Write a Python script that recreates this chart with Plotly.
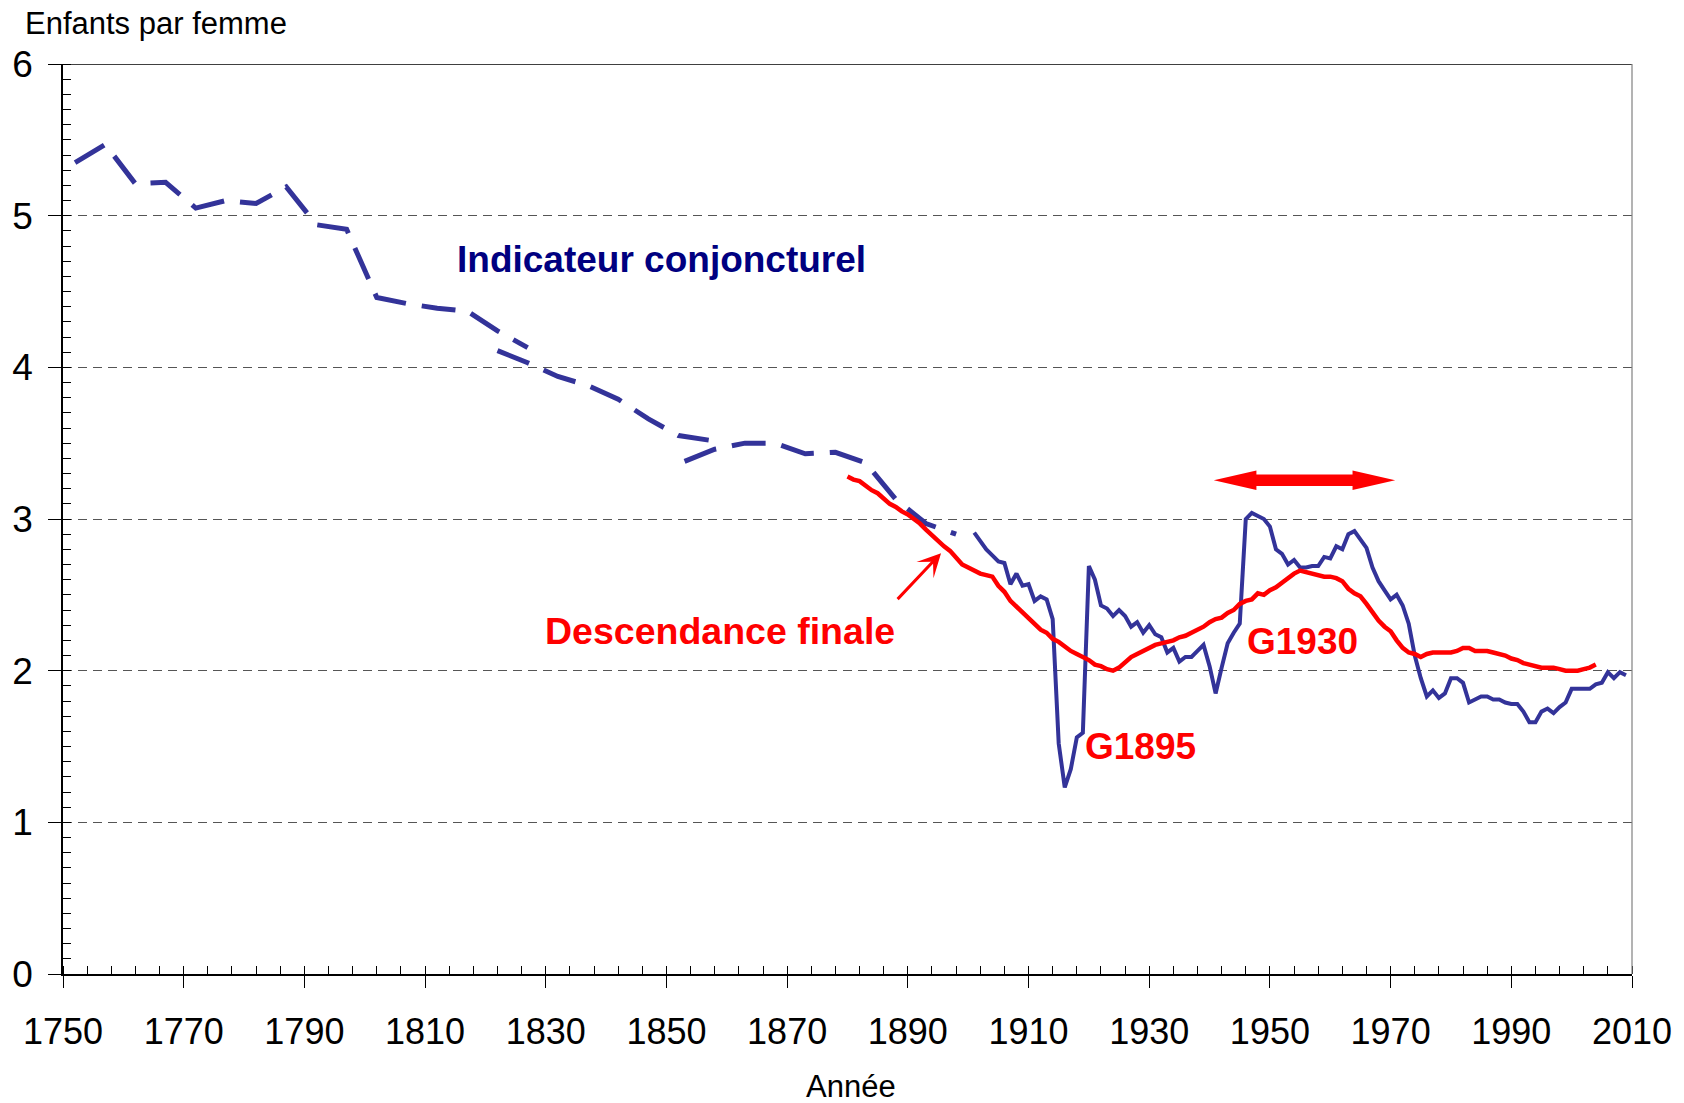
import plotly.graph_objects as go

# ---------------- data ----------------
# Indicateur conjoncturel - older estimates (5-year points, three overlapping sources)
years_a = [1752, 1757, 1762, 1767, 1772, 1777, 1782, 1787, 1792, 1797, 1802, 1807, 1812, 1817, 1822, 1827]
tfr_a = [5.35, 5.47, 5.21, 5.22, 5.05, 5.10, 5.08, 5.19, 4.94, 4.91, 4.46, 4.42, 4.39, 4.37, 4.24, 4.13]

years_b = [1822, 1827, 1832, 1837, 1842, 1847, 1852, 1857]
tfr_b = [4.11, 4.03, 3.94, 3.88, 3.79, 3.66, 3.55, 3.52]

years_c = [1853, 1858, 1863, 1868, 1873, 1878, 1883, 1888, 1893, 1898]
tfr_c = [3.38, 3.46, 3.50, 3.50, 3.43, 3.44, 3.37, 3.13, 2.97, 2.90]

# Indicateur conjoncturel - annual series 1901-2009
years_d = list(range(1901, 2010))
tfr_d = [2.91, 2.85, 2.80, 2.76, 2.72, 2.71, 2.57, 2.64, 2.56, 2.57,
         2.46, 2.49, 2.47, 2.34, 1.52, 1.23, 1.35, 1.56, 1.59, 2.69,
         2.60, 2.43, 2.41, 2.36, 2.40, 2.36, 2.29, 2.32, 2.25, 2.30,
         2.24, 2.22, 2.12, 2.15, 2.06, 2.09, 2.09, 2.13, 2.17, 2.03,
         1.85, 2.02, 2.18, 2.25, 2.31, 3.00, 3.04, 3.02, 3.00, 2.95,
         2.80, 2.77, 2.70, 2.73, 2.68, 2.68, 2.69, 2.69, 2.75, 2.74,
         2.82, 2.80, 2.90, 2.92, 2.86, 2.81, 2.68, 2.59, 2.53, 2.47,
         2.50, 2.43, 2.31, 2.10, 1.95, 1.83, 1.87, 1.82, 1.85, 1.95,
         1.95, 1.92, 1.79, 1.81, 1.83, 1.83, 1.81, 1.81, 1.79, 1.78,
         1.78, 1.73, 1.66, 1.66, 1.73, 1.75, 1.72, 1.76, 1.79, 1.88,
         1.88, 1.88, 1.88, 1.91, 1.92, 1.99, 1.95, 1.99, 1.97]

# Descendance finale (annual, 1880-2004)
years_r = list(range(1880, 2005))
desc_r = [3.28, 3.26, 3.25, 3.22, 3.19, 3.17, 3.13, 3.10, 3.08, 3.05,
          3.03, 3.00, 2.97, 2.93, 2.89, 2.85, 2.82, 2.79, 2.75, 2.70,
          2.68, 2.66, 2.64, 2.63, 2.62, 2.56, 2.52, 2.46, 2.42, 2.39,
          2.34, 2.30, 2.27, 2.25, 2.21, 2.19, 2.16, 2.13, 2.11, 2.09,
          2.07, 2.04, 2.03, 2.01, 2.00, 2.02, 2.06, 2.09, 2.11, 2.13,
          2.15, 2.17, 2.18, 2.19, 2.20, 2.22, 2.23, 2.25, 2.27, 2.29,
          2.32, 2.34, 2.35, 2.38, 2.40, 2.44, 2.46, 2.47, 2.51, 2.50,
          2.53, 2.55, 2.58, 2.61, 2.64, 2.66, 2.65, 2.64, 2.63, 2.62,
          2.62, 2.61, 2.59, 2.54, 2.51, 2.49, 2.44, 2.38, 2.33, 2.29,
          2.26, 2.20, 2.15, 2.12, 2.11, 2.09, 2.11, 2.12, 2.12, 2.12,
          2.12, 2.13, 2.15, 2.15, 2.13, 2.13, 2.13, 2.12, 2.11, 2.10,
          2.08, 2.07, 2.05, 2.04, 2.03, 2.02, 2.02, 2.02, 2.01, 2.00,
          2.00, 2.00, 2.01, 2.02, 2.04]

x_ticks = [1750, 1770, 1790, 1810, 1830, 1850, 1870, 1890, 1910, 1930, 1950, 1970, 1990, 2010]
y_ticks = [0, 1, 2, 3, 4, 5, 6]

# ---------------- style ----------------
BLUE = "#333399"
NAVY = "#000080"
RED = "#FF0000"
FONT = "Liberation Sans, Arial, sans-serif"
DASH = "34px,16px"

fig = go.Figure()
for xs, ys in [(years_a, tfr_a), (years_b, tfr_b), (years_c, tfr_c)]:
    fig.add_trace(go.Scatter(x=xs, y=ys, mode="lines",
                             line=dict(color=BLUE, width=5, dash=DASH),
                             showlegend=False, hoverinfo="skip"))
fig.add_trace(go.Scatter(x=years_d, y=tfr_d, mode="lines",
                         line=dict(color=BLUE, width=4),
                         showlegend=False))
fig.add_trace(go.Scatter(x=years_r, y=desc_r, mode="lines",
                         line=dict(color=RED, width=4.5),
                         showlegend=False))

# double-headed arrow (period of the baby-boom cohorts)
AY = 3.255
AX0, AX1 = 1940.7, 1970.75
HL, HH, SH = 7.06, 0.0646, 0.038
path = (f"M{AX0},{AY} L{AX0+HL},{AY+HH} L{AX0+HL},{AY+SH} L{AX1-HL},{AY+SH} "
        f"L{AX1-HL},{AY+HH} L{AX1},{AY} L{AX1-HL},{AY-HH} L{AX1-HL},{AY-SH} "
        f"L{AX0+HL},{AY-SH} L{AX0+HL},{AY-HH} Z")
fig.add_shape(type="path", path=path, xref="x", yref="y",
              fillcolor=RED, line=dict(color=RED, width=0))

# top border and right border
fig.add_shape(type="line", xref="paper", yref="y", x0=0, x1=1, y0=6, y1=6,
              line=dict(color="black", width=1.5))
fig.add_shape(type="line", xref="paper", yref="paper", x0=1, x1=1, y0=0, y1=1,
              line=dict(color="#808080", width=1.2))

# labels
fig.add_annotation(x=1849.2, y=4.71, xref="x", yref="y", text="<b>Indicateur conjoncturel</b>",
                   showarrow=False, font=dict(family=FONT, size=37, color=NAVY))
fig.add_annotation(x=1858.8, y=2.26, xref="x", yref="y", text="<b>Descendance finale</b>",
                   showarrow=False, font=dict(family=FONT, size=37.5, color=RED))
fig.add_annotation(x=1928.6, y=1.50, xref="x", yref="y", text="<b>G1895</b>",
                   showarrow=False, font=dict(family=FONT, size=37, color=RED))
fig.add_annotation(x=1955.45, y=2.19, xref="x", yref="y", text="<b>G1930</b>",
                   showarrow=False, font=dict(family=FONT, size=37, color=RED))
# arrow from label to curve
fig.add_annotation(x=1895.5, y=2.775, ax=1888.07, ay=2.462, xref="x", yref="y",
                   axref="x", ayref="y", text="", showarrow=True,
                   arrowhead=3, arrowsize=1.3, arrowwidth=3, arrowcolor=RED, standoff=0)

fig.add_annotation(x=-0.0255, y=1.0445, xref="paper", yref="paper", text="Enfants par femme",
                   showarrow=False, xanchor="left", yanchor="middle",
                   font=dict(family=FONT, size=31, color="black"))
fig.add_annotation(x=0.5025, y=-0.1238, xref="paper", yref="paper", text="Année",
                   showarrow=False, xanchor="center", yanchor="middle",
                   font=dict(family=FONT, size=31, color="black"))

fig.update_xaxes(range=[1750, 2010], tickmode="array", tickvals=x_ticks,
                 ticktext=[str(v) for v in x_ticks],
                 showgrid=False, zeroline=False,
                 showline=True, linecolor="black", linewidth=2,
                 ticks="outside", ticklen=12, tickwidth=1, tickcolor="black",
                 ticklabelstandoff=13,
                 minor=dict(ticks="inside", dtick=4, tick0=1750, ticklen=8,
                            tickwidth=1, tickcolor="black", showgrid=False),
                 tickfont=dict(family=FONT, size=36, color="black"))
fig.update_yaxes(range=[0, 6], tickmode="array", tickvals=y_ticks,
                 ticktext=[str(v) for v in y_ticks],
                 showgrid=True, gridcolor="#555555", gridwidth=1.2, griddash="9px,6px",
                 zeroline=False,
                 showline=True, linecolor="black", linewidth=1.5,
                 ticks="outside", ticklen=13, tickwidth=1, tickcolor="black",
                 ticklabelstandoff=8,
                 minor=dict(ticks="inside", dtick=0.1, tick0=0, ticklen=8,
                            tickwidth=1, tickcolor="black", showgrid=False),
                 tickfont=dict(family=FONT, size=37, color="black"))

fig.update_layout(width=1684, height=1103, autosize=False,
                  margin=dict(l=60, r=52, t=64, b=128.5, pad=0),
                  plot_bgcolor="white", paper_bgcolor="white",
                  showlegend=False)

# remove the default 8px page margin so the figure fills the window exactly
fig.write_html("out.html", config={"displayModeBar": False},
               post_script="document.body.style.margin='0';")
